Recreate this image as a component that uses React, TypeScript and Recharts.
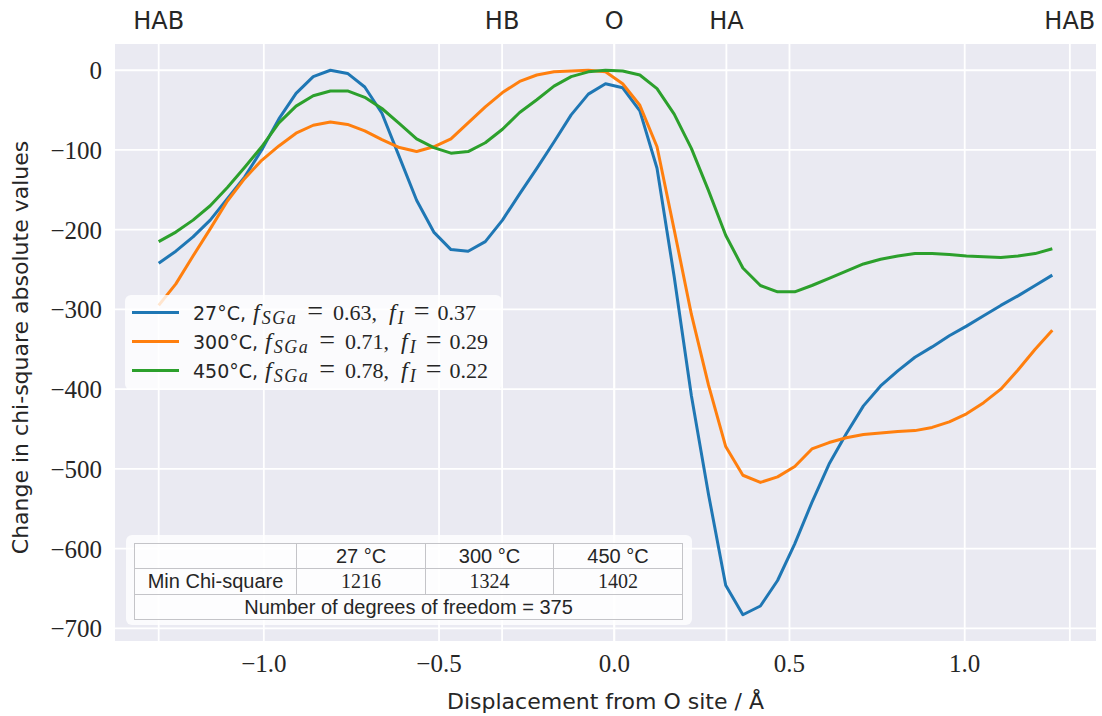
import React from 'react';
import { LineChart, Line, XAxis, YAxis, CartesianGrid, Legend, Label } from 'recharts';

// Displacement from O site (Å)
const xValues = [
  -1.300, -1.251, -1.202, -1.153, -1.104, -1.055, -1.006, -0.957, -0.908, -0.859,
  -0.810, -0.761, -0.712, -0.663, -0.613, -0.564, -0.515, -0.466, -0.417, -0.368,
  -0.319, -0.270, -0.221, -0.172, -0.123, -0.074, -0.025, 0.024, 0.073, 0.122,
  0.171, 0.220, 0.269, 0.318, 0.367, 0.417, 0.466, 0.515, 0.564, 0.613,
  0.662, 0.711, 0.760, 0.809, 0.858, 0.907, 0.956, 1.005, 1.054, 1.103,
  1.152, 1.201, 1.250,
];

const chi27 = [
  -242, -227, -209, -188, -161, -134, -100, -61, -29, -8,
  0, -4, -21, -54, -109, -163, -203, -225, -227, -215,
  -188, -155, -123, -90, -56, -30, -17, -22, -51, -123,
  -259, -408, -532, -646, -683, -672, -640, -594, -542, -494,
  -456, -421, -396, -377, -360, -347, -333, -321, -308, -295,
  -283, -270, -257,
];

const chi300 = [
  -295, -268, -233, -199, -164, -136, -113, -95, -79, -69,
  -65, -68, -76, -87, -97, -102, -96, -86, -66, -46,
  -28, -14, -6, -2, -1, 0, -2, -17, -44, -96,
  -200, -306, -395, -472, -508, -517, -510, -497, -475, -467,
  -461, -457, -455, -453, -452, -448, -441, -431, -417, -400,
  -376, -350, -326,
];

const chi450 = [
  -215, -203, -188, -170, -147, -122, -96, -66, -45, -32,
  -26, -26, -34, -48, -67, -86, -97, -104, -102, -91,
  -74, -53, -37, -20, -8, -2, 0, -1, -6, -23,
  -55, -98, -151, -207, -248, -270, -278, -278, -270, -261,
  -252, -243, -237, -233, -230, -230, -231, -233, -234, -235,
  -233, -230, -224,
];

const seriesKeys = ['t27', 't300', 't450'];
const seriesNames = ['27°C', '300°C', '450°C'];
const seriesColors = ['#1f77b4', '#ff7f0e', '#2ca02c'];
const fSGaValues = ['0.63', '0.71', '0.78'];
const fIValues = ['0.37', '0.29', '0.22'];

const bottomTicks = [-1.0, -0.5, 0.0, 0.5, 1.0];
const leftTicks = [0, -100, -200, -300, -400, -500, -600, -700];
const topTickPositions = [-1.3, -0.32, 0, 0.32, 1.3];
const topTickLabels = ['HAB', 'HB', 'O', 'HA', 'HAB'];

const tableTemps = ['27 °C', '300 °C', '450 °C'];
const minChiSquare = [1216, 1324, 1402];
const degreesOfFreedom = 375;

const xDomain = [-1.4275, 1.3775];
const yDomain = [-717.15, 34.15];

const data = xValues.map((x, i) => ({
  x,
  t27: chi27[i],
  t300: chi300[i],
  t450: chi450[i],
}));

const TEXT = '#262626';
const fmtMinus = (s: string) => s.replace('-', '\u2212');

const BottomTick = (props: any) => {
  const { x, y, payload } = props;
  return (
    <text x={x} y={y + 30} textAnchor="middle" fontFamily="Liberation Serif" fontSize={25} fill={TEXT}>
      {fmtMinus(Number(payload.value).toFixed(1))}
    </text>
  );
};

const LeftTick = (props: any) => {
  const { y, payload } = props;
  return (
    <text x={102} y={y} dy="0.36em" textAnchor="end" fontFamily="Liberation Serif" fontSize={25} fill={TEXT}>
      {fmtMinus(String(payload.value))}
    </text>
  );
};

const TopTick = (props: any) => {
  const { x, payload, index } = props;
  const i = topTickPositions.indexOf(payload.value);
  return (
    <text x={x} y={29} textAnchor="middle" fontFamily="DejaVu Sans" fontSize={24} fill={TEXT}>
      {topTickLabels[i >= 0 ? i : index]}
    </text>
  );
};

const serif = 'Liberation Serif';
const ib = (extra: React.CSSProperties): React.CSSProperties => ({
  display: 'inline-block',
  fontFamily: serif,
  ...extra,
});

const renderLegend = () => (
  <div
    style={{
      background: 'rgba(255,255,255,0.8)',
      borderRadius: 6,
      width: 377,
      height: 95,
      boxSizing: 'border-box',
      paddingTop: 3,
    }}
  >
    {seriesNames.map((n, i) => (
      <div key={n} style={{ display: 'flex', alignItems: 'center', height: 29 }}>
        <div style={{ marginLeft: 7, width: 47, height: 3, background: seriesColors[i], flex: 'none' }} />
        <div
          style={{
            marginLeft: 14,
            color: TEXT,
            whiteSpace: 'nowrap',
            lineHeight: '29px',
            display: 'flex',
            alignItems: 'baseline',
          }}
        >
          <span style={{ fontFamily: 'DejaVu Sans', fontSize: 19 }}>{n},</span>
          <span style={ib({ fontSize: 24, fontStyle: 'italic', marginLeft: 7 })}>f</span>
          <span
            style={ib({
              fontSize: 18,
              fontStyle: 'italic',
              marginLeft: 2,
              letterSpacing: 1.5,
              position: 'relative',
              top: 4,
            })}
          >
            SGa
          </span>
          <span style={ib({ fontSize: 28, marginLeft: 10 })}>=</span>
          <span style={ib({ fontSize: 22, marginLeft: 10 })}>{fSGaValues[i]},</span>
          <span style={ib({ fontSize: 24, fontStyle: 'italic', marginLeft: 12 })}>f</span>
          <span
            style={ib({
              fontSize: 18,
              fontStyle: 'italic',
              marginLeft: 2,
              position: 'relative',
              top: 4,
            })}
          >
            I
          </span>
          <span style={ib({ fontSize: 28, marginLeft: 10 })}>=</span>
          <span style={ib({ fontSize: 22, marginLeft: 8 })}>{fIValues[i]}</span>
        </div>
      </div>
    ))}
  </div>
);

const cellBorder = '1px solid #c4c4c8';
const sansCell: React.CSSProperties = {
  fontFamily: 'Liberation Sans',
  fontSize: 20,
  color: TEXT,
  textAlign: 'center',
  border: cellBorder,
  padding: 0,
};
const serifCell: React.CSSProperties = { ...sansCell, fontFamily: 'Liberation Serif' };

const ChiTable = () => (
  <div
    style={{
      position: 'absolute',
      left: 126,
      top: 535,
      width: 566,
      height: 90,
      background: 'rgba(255,255,255,0.8)',
      borderRadius: 6,
    }}
  >
    <table
      style={{
        position: 'absolute',
        left: 8,
        top: 8,
        width: 548,
        borderCollapse: 'collapse',
        tableLayout: 'fixed',
        background: 'rgba(255,255,255,0.5)',
      }}
    >
      <colgroup>
        <col style={{ width: 162 }} />
        <col style={{ width: 129 }} />
        <col style={{ width: 128 }} />
        <col style={{ width: 129 }} />
      </colgroup>
      <tbody>
        <tr style={{ height: 25 }}>
          <td style={sansCell}></td>
          {tableTemps.map((t) => (
            <td key={t} style={sansCell}>
              {t}
            </td>
          ))}
        </tr>
        <tr style={{ height: 26 }}>
          <td style={sansCell}>Min Chi-square</td>
          {minChiSquare.map((v, i) => (
            <td key={i} style={serifCell}>
              {v}
            </td>
          ))}
        </tr>
        <tr style={{ height: 25 }}>
          <td style={sansCell} colSpan={4}>
            Number of degrees of freedom = {degreesOfFreedom}
          </td>
        </tr>
      </tbody>
    </table>
  </div>
);

export default function App() {
  return (
    <div style={{ position: 'absolute', left: 0, top: 0, width: 1102, height: 716, background: '#fff' }}>
      <LineChart width={1102} height={716} data={data} margin={{ top: 0, right: 5, bottom: 0, left: 0 }}>
        <CartesianGrid stroke="#ffffff" strokeWidth={1.8} fill="#EAEAF2" />
        <CartesianGrid xAxisId="top" horizontal={false} stroke="#ffffff" strokeWidth={1.8} />
        <XAxis
          dataKey="x"
          type="number"
          domain={xDomain}
          allowDataOverflow
          ticks={bottomTicks}
          interval={0}
          height={74}
          tickSize={0}
          tickMargin={0}
          axisLine={false}
          tickLine={false}
          tick={<BottomTick />}
        >
          <Label
            content={(p: any) => {
              const vb = p.viewBox || { x: 114, width: 983 };
              return (
                <text
                  x={vb.x + vb.width / 2}
                  y={709}
                  textAnchor="middle"
                  fontFamily="DejaVu Sans"
                  fontSize={22}
                  fill={TEXT}
                >
                  Displacement from O site / Å
                </text>
              );
            }}
          />
        </XAxis>
        <XAxis
          xAxisId="top"
          orientation="top"
          dataKey="x"
          type="number"
          domain={xDomain}
          allowDataOverflow
          ticks={topTickPositions}
          interval={0}
          height={43}
          tickSize={0}
          tickMargin={0}
          axisLine={false}
          tickLine={false}
          tick={<TopTick />}
        />
        <YAxis
          type="number"
          domain={yDomain}
          allowDataOverflow
          ticks={leftTicks}
          interval={0}
          width={114}
          tickSize={0}
          tickMargin={0}
          axisLine={false}
          tickLine={false}
          tick={<LeftTick />}
        >
          <Label
            content={(p: any) => {
              const vb = p.viewBox || { y: 43, height: 599 };
              const cy = vb.y + vb.height / 2 + 5;
              return (
                <text
                  x={28}
                  y={cy}
                  transform={`rotate(-90, 28, ${cy})`}
                  textAnchor="middle"
                  fontFamily="DejaVu Sans"
                  fontSize={22}
                  fill={TEXT}
                >
                  Change in chi-square absolute values
                </text>
              );
            }}
          />
        </YAxis>
        {seriesKeys.map((k, i) => (
          <Line
            key={k}
            type="linear"
            dataKey={k}
            name={seriesNames[i]}
            stroke={seriesColors[i]}
            strokeWidth={3}
            strokeLinejoin="round"
            dot={false}
            activeDot={false}
            isAnimationActive={false}
          />
        ))}
        <Legend
          layout="vertical"
          align="center"
          verticalAlign="middle"
          content={renderLegend}
          wrapperStyle={{ left: 125, top: 295, width: 377, height: 95 }}
        />
      </LineChart>
      <ChiTable />
    </div>
  );
}
